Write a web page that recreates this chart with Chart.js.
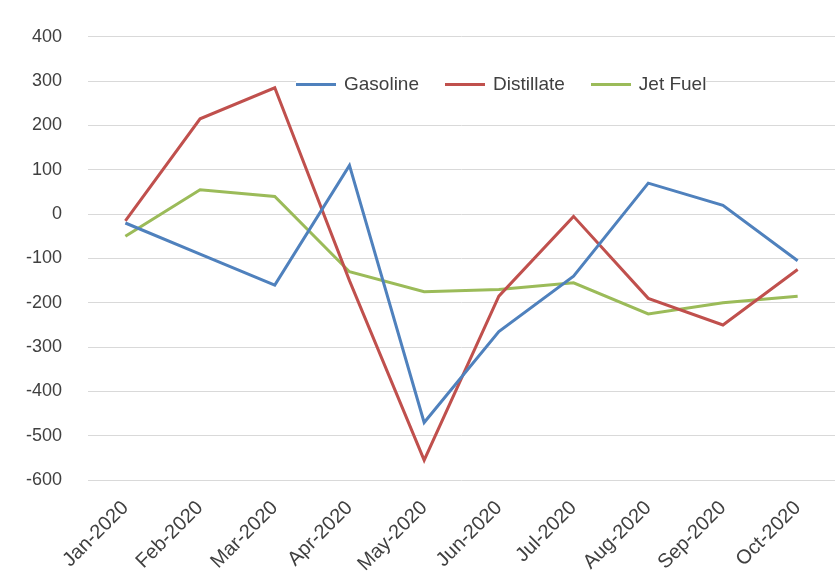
<!DOCTYPE html>
<html lang="en">
<head>
  <meta charset="UTF-8" />
  <title>Inventory changes</title>
  <script src="https://cdn.jsdelivr.net/npm/chart.js"></script>
  <style>
    body { margin: 0; background: #fff; font-family: "Liberation Sans", Arial, sans-serif; }
    #wrap { position: relative; width: 837px; height: 588px; }
    #legend { position: absolute; left: 296px; top: 73px; display: flex; gap: 26px; font-size: 19px; color: #404040; background: #fff; }
    #legend span { display: flex; align-items: center; }
    #legend i { display: inline-block; width: 40px; height: 3px; margin-right: 8px; }
  </style>
</head>
<body>
  <div id="wrap">
    <canvas id="chart" width="837" height="588"></canvas>
    <div id="legend">
      <span><i style="background:#4F81BD"></i>Gasoline</span>
      <span><i style="background:#C0504D"></i>Distillate</span>
      <span><i style="background:#9BBB59"></i>Jet Fuel</span>
    </div>
  </div>

  <script>
    const months = ["Jan-2020", "Feb-2020", "Mar-2020", "Apr-2020", "May-2020", "Jun-2020", "Jul-2020", "Aug-2020", "Sep-2020", "Oct-2020"];
    const gasoline = [-20, -90, -160, 110, -470, -265, -140, 70, 20, -105];
    const distillate = [-15, 215, 285, -150, -555, -185, -5, -190, -250, -125];
    const jetFuel = [-50, 55, 40, -130, -175, -170, -155, -225, -200, -185];

    const line = (label, data, color) => ({
      label, data, borderColor: color, backgroundColor: color,
      borderWidth: 3, pointRadius: 0, tension: 0, fill: false
    });

    new Chart(document.getElementById("chart"), {
      type: "line",
      data: {
        labels: months,
        datasets: [
          line("Gasoline", gasoline, "#4F81BD"),
          line("Distillate", distillate, "#C0504D"),
          line("Jet Fuel", jetFuel, "#9BBB59")
        ]
      },
      options: {
        responsive: false,
        animation: false,
        layout: { padding: { top: 8, right: 2, left: 0, bottom: 4 } },
        plugins: { legend: { display: false }, tooltip: { enabled: false } },
        scales: {
          x: {
            offset: true,
            grid: { display: false },
            border: { display: false },
            ticks: { color: "#404040", font: { size: 20 }, maxRotation: 45, minRotation: 45, padding: 8 }
          },
          y: {
            min: -600, max: 400,
            ticks: { stepSize: 100, color: "#404040", font: { size: 18 }, padding: 26 },
            grid: { color: "#d9d9d9", drawTicks: false },
            border: { display: false }
          }
        }
      }
    });
  </script>
</body>
</html>
